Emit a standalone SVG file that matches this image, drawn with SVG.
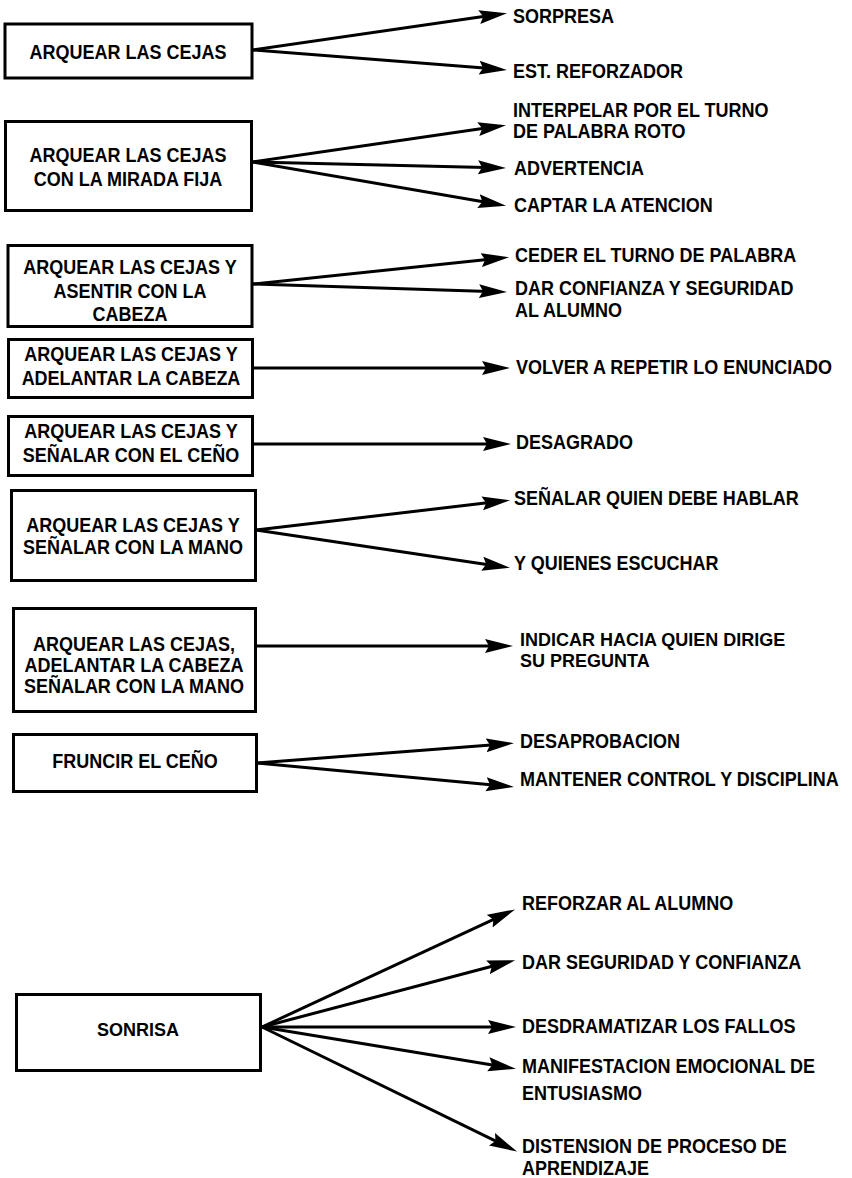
<svg xmlns="http://www.w3.org/2000/svg" width="852" height="1178" viewBox="0 0 852 1178">
<style>
.box{fill:#fff;stroke:#000;stroke-width:3}
.l{font-family:"Liberation Sans",Arial,sans-serif;font-weight:bold;font-size:18px;text-anchor:middle;fill:#000}
.r{font-family:"Liberation Sans",Arial,sans-serif;font-weight:bold;font-size:18px;fill:#000}
.c line{stroke:#000;stroke-width:3;marker-end:url(#ah)}
</style>
<defs>
<marker id="ah" markerUnits="userSpaceOnUse" markerWidth="29" markerHeight="15" viewBox="0 0 29 15" refX="18" refY="7.5" orient="auto">
<path d="M0,0.5 L28,7.5 L0,14.5 L4,7.5 Z" fill="#000"/>
</marker>
</defs>
<rect width="852" height="1178" fill="#fff"/>

<g id="n1">
<rect class="box" x="5" y="24" width="247" height="54"/>
<text class="l" transform="translate(128,59) scale(1,1.15)">ARQUEAR LAS CEJAS</text>
</g>
<g id="n2">
<rect class="box" x="5.5" y="121.5" width="246" height="89"/>
<text class="l" transform="translate(128,162) scale(1,1.15)">ARQUEAR LAS CEJAS</text>
<text class="l" transform="translate(128,186) scale(1,1.15)">CON LA MIRADA FIJA</text>
</g>
<g id="n3">
<rect class="box" x="8" y="245.5" width="244" height="81"/>
<text class="l" transform="translate(130,274) scale(1,1.15)">ARQUEAR LAS CEJAS Y</text>
<text class="l" transform="translate(130,298) scale(1,1.15)">ASENTIR CON LA</text>
<text class="l" transform="translate(130,321) scale(1,1.15)">CABEZA</text>
</g>
<g id="n4">
<rect class="box" x="8.5" y="339.5" width="244" height="58"/>
<text class="l" transform="translate(131,361) scale(1,1.15)">ARQUEAR LAS CEJAS Y</text>
<text class="l" transform="translate(131,385) scale(1,1.15)">ADELANTAR LA CABEZA</text>
</g>
<g id="n5">
<rect class="box" x="8.5" y="416.5" width="244" height="59"/>
<text class="l" transform="translate(131,438) scale(1,1.15)">ARQUEAR LAS CEJAS Y</text>
<text class="l" transform="translate(131,462) scale(1,1.15)">SEÑALAR CON EL CEÑO</text>
</g>
<g id="n6">
<rect class="box" x="11.5" y="490.5" width="244" height="90"/>
<text class="l" transform="translate(133,532) scale(1,1.15)">ARQUEAR LAS CEJAS Y</text>
<text class="l" transform="translate(133,554) scale(1,1.15)">SEÑALAR CON LA MANO</text>
</g>
<g id="n7">
<rect class="box" x="13.5" y="608.5" width="242" height="103"/>
<text class="l" transform="translate(134,651) scale(1,1.08)">ARQUEAR LAS CEJAS,</text>
<text class="l" transform="translate(134,672) scale(1,1.08)">ADELANTAR LA CABEZA</text>
<text class="l" transform="translate(134,693) scale(1,1.08)">SEÑALAR CON LA MANO</text>
</g>
<g id="n8">
<rect class="box" x="13.5" y="734.5" width="243" height="57"/>
<text class="l" transform="translate(135,768) scale(1,1.15)">FRUNCIR EL CEÑO</text>
</g>
<g id="n9">
<rect class="box" x="16.5" y="994.5" width="244" height="76"/>
<text class="l" transform="translate(138,1036)">SONRISA</text>
</g>

<g id="connectors" class="c">
<line x1="253" y1="50" x2="497.1" y2="14.6"/>
<line x1="253" y1="50" x2="497" y2="69.1"/>
<line x1="253" y1="162" x2="496.1" y2="126.6"/>
<line x1="253" y1="162" x2="496" y2="167.7"/>
<line x1="253" y1="162" x2="496.2" y2="204.1"/>
<line x1="253" y1="284" x2="499.1" y2="258.2"/>
<line x1="253" y1="284" x2="497" y2="291.7"/>
<line x1="253" y1="368" x2="500" y2="368"/>
<line x1="253" y1="444" x2="501" y2="444"/>
<line x1="256" y1="530" x2="500.1" y2="501.3"/>
<line x1="256" y1="530" x2="500.1" y2="566.4"/>
<line x1="256" y1="646" x2="503" y2="646"/>
<line x1="257" y1="763" x2="504" y2="743.9"/>
<line x1="257" y1="763" x2="504" y2="786"/>
<line x1="262" y1="1027" x2="506" y2="913.6"/>
<line x1="262" y1="1027" x2="505.4" y2="962.8"/>
<line x1="262" y1="1027" x2="506" y2="1027"/>
<line x1="262" y1="1027" x2="506.1" y2="1067.2"/>
<line x1="262" y1="1027" x2="508.1" y2="1147.2"/>
</g>

<g id="labels">
<text class="r" transform="translate(513,23) scale(1,1.08)">SORPRESA</text>
<text class="r" transform="translate(513,78) scale(1,1.08)">EST. REFORZADOR</text>
<text class="r" transform="translate(513,117) scale(1,1.08)">INTERPELAR POR EL TURNO</text>
<text class="r" transform="translate(513,138) scale(1,1.08)">DE PALABRA ROTO</text>
<text class="r" transform="translate(514,175) scale(1,1.08)">ADVERTENCIA</text>
<text class="r" transform="translate(514,212) scale(1,1.08)">CAPTAR LA ATENCION</text>
<text class="r" transform="translate(515,262) scale(1,1.08)">CEDER EL TURNO DE PALABRA</text>
<text class="r" transform="translate(515,295) scale(1,1.08)">DAR CONFIANZA Y SEGURIDAD</text>
<text class="r" transform="translate(515,317) scale(1,1.08)">AL ALUMNO</text>
<text class="r" transform="translate(516,374) scale(1,1.08)">VOLVER A REPETIR LO ENUNCIADO</text>
<text class="r" transform="translate(516,449) scale(1,1.08)">DESAGRADO</text>
<text class="r" transform="translate(514,505) scale(1,1.08)">SEÑALAR QUIEN DEBE HABLAR</text>
<text class="r" transform="translate(514,570) scale(1,1.08)">Y QUIENES ESCUCHAR</text>
<text class="r" transform="translate(520,646)">INDICAR HACIA QUIEN DIRIGE</text>
<text class="r" transform="translate(520,667)">SU PREGUNTA</text>
<text class="r" transform="translate(520,748) scale(1,1.08)">DESAPROBACION</text>
<text class="r" transform="translate(520,786) scale(1,1.08)">MANTENER CONTROL Y DISCIPLINA</text>
<text class="r" transform="translate(522,910) scale(1,1.08)">REFORZAR AL ALUMNO</text>
<text class="r" transform="translate(522,969) scale(1,1.08)">DAR SEGURIDAD Y CONFIANZA</text>
<text class="r" transform="translate(522,1033) scale(1,1.08)">DESDRAMATIZAR LOS FALLOS</text>
<text class="r" transform="translate(522,1073) scale(1,1.08)">MANIFESTACION EMOCIONAL DE</text>
<text class="r" transform="translate(522,1100) scale(1,1.08)">ENTUSIASMO</text>
<text class="r" transform="translate(522,1153) scale(1,1.08)">DISTENSION DE PROCESO DE</text>
<text class="r" transform="translate(522,1175) scale(1,1.08)">APRENDIZAJE</text>
</g>
</svg>
